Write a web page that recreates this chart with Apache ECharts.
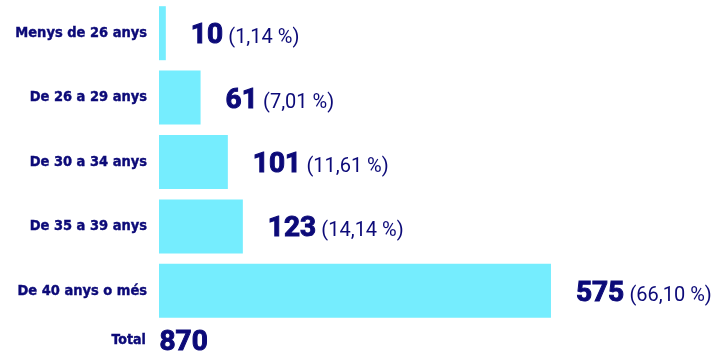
<!DOCTYPE html>
<html>
<head>
<meta charset="utf-8">
<script src="https://cdn.jsdelivr.net/npm/echarts@6/dist/echarts.min.js"></script>
<style>
  html, body { margin: 0; padding: 0; background: #ffffff; }
  #chart { width: 719px; height: 354px; }
</style>
</head>
<body>
<div id="chart"></div>
<script>
// Age groups and counts
const categories = ['Menys de 26 anys', 'De 26 a 29 anys', 'De 30 a 34 anys', 'De 35 a 39 anys', 'De 40 anys o més'];
const values = [10, 61, 101, 123, 575];
const percentLabels = ['1,14 %', '7,01 %', '11,61 %', '14,14 %', '66,10 %'];
const totalLabel = 'Total';
const totalValue = 870;

const NAVY = '#0c0a78';
const CYAN = '#75edfe';
const LABEL_FONT = '"DejaVu Sans Condensed", "DejaVu Sans", sans-serif';
const VALUE_FONT = 'Roboto, sans-serif';

const chart = echarts.init(document.getElementById('chart'), null, { renderer: 'canvas' });

chart.setOption({
  animation: false,
  backgroundColor: '#ffffff',
  grid: {
    left: 159, top: 1, width: 409, height: 322,
    containLabel: false, outerBoundsMode: 'none'
  },
  xAxis: {
    type: 'value', min: 0, max: 600,
    show: false
  },
  yAxis: {
    type: 'category',
    data: categories,
    inverse: true,
    axisLine: { show: false },
    axisTick: { show: false },
    splitLine: { show: false },
    axisLabel: {
      margin: 12,
      color: NAVY,
      fontFamily: LABEL_FONT,
      fontWeight: 'bold',
      fontSize: 14.5,
      textBorderColor: NAVY,
      textBorderWidth: 0.4
    }
  },
  series: [{
    type: 'bar',
    data: values,
    barWidth: 54,
    itemStyle: { color: CYAN },
    label: {
      show: true,
      position: 'right',
      distance: 25,
      offset: [0, 3],
      formatter: p => '{v|' + p.value + '} {p|(' + percentLabels[p.dataIndex] + ')}',
      rich: {
        v: {
          fontFamily: VALUE_FONT, fontWeight: 'bold', fontSize: 28, color: NAVY,
          textBorderColor: NAVY, textBorderWidth: 1
        },
        p: { fontFamily: VALUE_FONT, fontWeight: 'normal', fontSize: 20, color: NAVY, padding: [4, 0, 0, 2] }
      }
    }
  }],
  graphic: [
    {
      type: 'text', right: 719 - 146, top: 333,
      style: {
        text: totalLabel, fill: NAVY, font: 'bold 14px ' + LABEL_FONT, textAlign: 'right',
        stroke: NAVY, lineWidth: 0.4
      }
    },
    {
      type: 'text', left: 159, top: 328,
      style: {
        text: String(totalValue), fill: NAVY, font: 'bold 28px ' + VALUE_FONT,
        stroke: NAVY, lineWidth: 1
      }
    }
  ]
});
</script>
</body>
</html>
